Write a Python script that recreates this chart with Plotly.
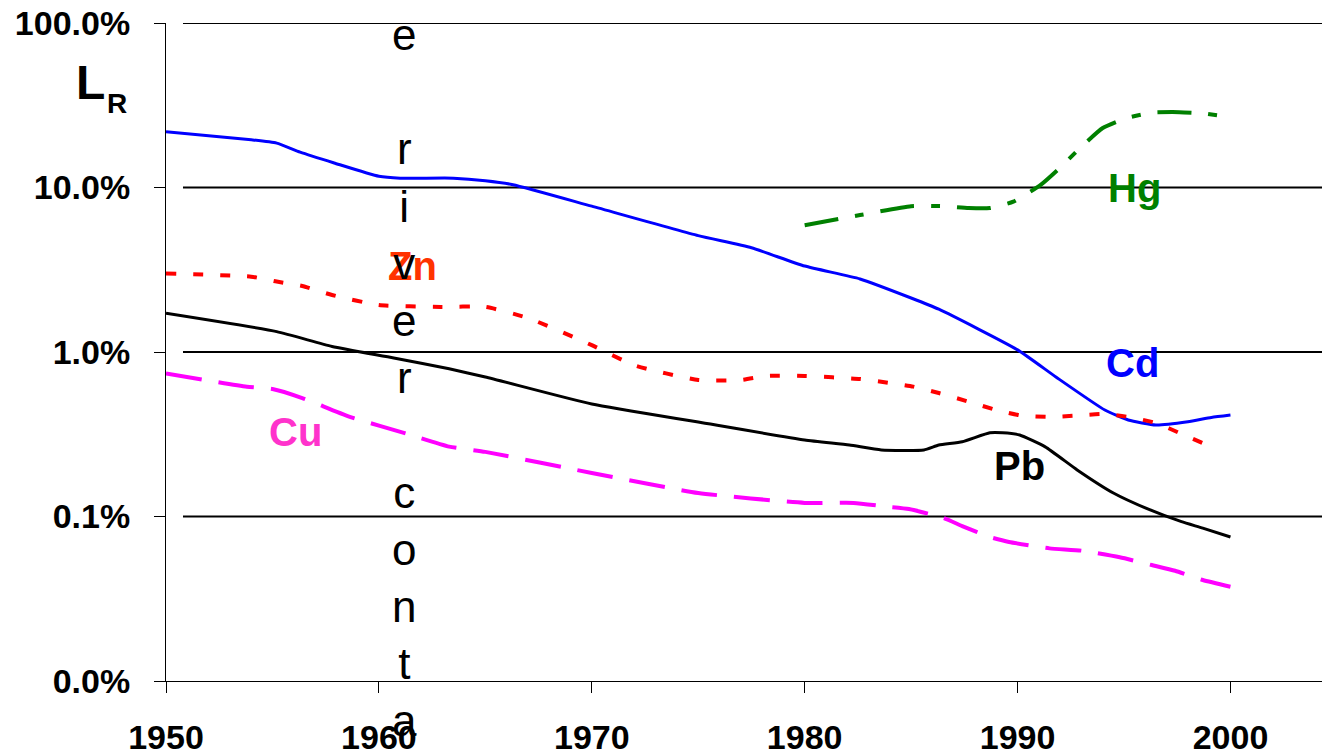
import plotly.graph_objects as go

# Relative load L_R (%) per metal, by year
cd_years = [1950, 1954, 1955.2, 1956.3, 1957.9, 1960, 1961, 1963.5, 1965, 1966.3, 1970, 1975,
            1977.5, 1980, 1982.6, 1985, 1986.3, 1990, 1991.8, 1994.1, 1995.2, 1996.5, 1998, 1999.1, 2000]
cd_values = [21.8, 19.5, 18.6, 16.4, 14.1, 11.7, 11.4, 11.4, 11.0, 10.4, 7.7, 5.1,
             4.3, 3.33, 2.78, 2.13, 1.82, 1.03, 0.705, 0.444, 0.386, 0.36, 0.377, 0.40, 0.414]

hg_years = [1980, 1982.6, 1985, 1986.5, 1987.7, 1988.7, 1989.8, 1991.1, 1992, 1993, 1994,
            1995.1, 1996.3, 1997.6, 1998.7, 2000]
hg_values = [5.9, 6.8, 7.7, 7.7, 7.5, 7.5, 8.2, 10.4, 13.2, 17.7, 23.0,
             26.4, 28.5, 28.7, 28.2, 26.7]

zn_years = [1950, 1954, 1955.2, 1956.4, 1957.8, 1960, 1962.9, 1965, 1967, 1970, 1972, 1975,
            1977, 1978.2, 1980, 1982.6, 1984, 1985.1, 1986.3, 1987.7, 1989, 1990.2, 1991.5,
            1992.7, 1994, 1995.2, 1996.5, 1997.7, 1998.9]
zn_values = [3.0, 2.87, 2.68, 2.52, 2.22, 1.93, 1.88, 1.88, 1.61, 1.10, 0.83, 0.676,
             0.676, 0.715, 0.715, 0.685, 0.648, 0.616, 0.563, 0.499, 0.444, 0.41, 0.403,
             0.41, 0.42, 0.403, 0.37, 0.318, 0.272]

pb_years = [1950, 1955.2, 1957.8, 1960.7, 1963.3, 1965, 1970, 1975, 1980, 1982.1, 1983.6,
            1985.6, 1986.3, 1987.4, 1988.7, 1989.3, 1990.1, 1991.3, 1992.8, 1994.5, 1996.2,
            1997.7, 1998.7, 2000]
pb_values = [1.72, 1.33, 1.08, 0.92, 0.79, 0.705, 0.483, 0.375, 0.292, 0.272, 0.254,
             0.254, 0.272, 0.285, 0.323, 0.323, 0.313, 0.265, 0.192, 0.139, 0.110,
             0.093, 0.085, 0.075]

cu_years = [1950, 1953.8, 1955, 1956.4, 1958.6, 1961.5, 1963.3, 1965, 1970, 1975, 1980,
            1982.3, 1983.8, 1984.9, 1986.5, 1987.4, 1988.7, 1989.6, 1991.5, 1993, 1994.8,
            1996.3, 1997.4, 1998.7, 2000]
cu_values = [0.741, 0.615, 0.596, 0.525, 0.405, 0.313, 0.266, 0.247, 0.184, 0.139, 0.121,
             0.121, 0.115, 0.111, 0.098, 0.0875, 0.075, 0.070, 0.064, 0.062, 0.0565,
             0.0507, 0.0468, 0.0411, 0.0374]

y_tick_values = [0.01, 0.1, 1, 10, 100]
y_tick_labels = ["0.0%", "0.1%", "1.0%", "10.0%", "100.0%"]
x_tick_values = [1950, 1960, 1970, 1980, 1990, 2000]

FONT = "Liberation Sans, Arial, sans-serif"

fig = go.Figure()

series = [
    (cd_years, cd_values, "#0000FF", "solid", 3),
    (hg_years, hg_values, "#008000", "34px,17px,9px,17px", 4),
    (zn_years, zn_values, "#FF0000", "10px,17px", 4),
    (pb_years, pb_values, "#000000", "solid", 3),
    (cu_years, cu_values, "#FF00FF", "36px,17px", 4),
]
for xs, ys, color, dash, width in series:
    fig.add_trace(go.Scatter(
        x=xs, y=ys, mode="lines",
        line=dict(color=color, dash=dash, width=width, shape="spline", smoothing=0.5),
        showlegend=False, hoverinfo="skip",
    ))

# Horizontal reference lines at each decade (start a little right of the axis)
for v in [0.1, 1, 10, 100]:
    fig.add_shape(type="line", xref="paper", x0=0.0147, x1=1,
                  yref="y", y0=v, y1=v,
                  line=dict(color="black", width=2), layer="below")

# Series labels (y given as log10 of the value)
labels = [
    ("Zn", 1961.6, 0.52, "#FF3300"),
    ("Hg", 1995.5, 1.0, "#008000"),
    ("Cd", 1995.4, -0.067, "#0000FF"),
    ("Pb", 1990.1, -0.693, "#000000"),
    ("Cu", 1956.1, -0.486, "#FF33CC"),
]
for text, x, y, color in labels:
    fig.add_annotation(text=f"<b>{text}</b>", x=x, y=y, xref="x", yref="y",
                       showarrow=False, xanchor="center", yanchor="middle",
                       font=dict(family=FONT, size=40, color=color))

# Stacked caption letters
caption = "e<br> <br>r<br>i<br>v<br>e<br>r<br> <br>c<br>o<br>n<br>t<br>a"
fig.add_annotation(text=caption, x=1961.2, y=0.462, xref="x", yref="paper",
                   showarrow=False, xanchor="center", yanchor="middle", align="center",
                   font=dict(family=FONT, size=44, color="black"))

# Axis title L_R
fig.add_annotation(text="<b>L</b>", xref="paper", yref="paper",
                   x=(90 - 166) / 1156, y=(681 - 83) / 658,
                   xanchor="center", yanchor="middle", showarrow=False,
                   font=dict(family=FONT, size=48, color="black"))
fig.add_annotation(text="<b>R</b>", xref="paper", yref="paper",
                   x=(117 - 166) / 1156, y=(681 - 103) / 658,
                   xanchor="center", yanchor="middle", showarrow=False,
                   font=dict(family=FONT, size=28, color="black"))

fig.update_layout(
    width=1322, height=755,
    margin=dict(l=166, r=0, t=23, b=74),
    paper_bgcolor="white", plot_bgcolor="white",
    font=dict(family=FONT, color="black"),
    xaxis=dict(
        range=[1950, 2004.3], tickvals=x_tick_values, ticktext=[str(v) for v in x_tick_values],
        showgrid=False, zeroline=False, showline=True, linecolor="black", linewidth=1,
        ticks="outside", ticklen=11, tickcolor="black", tickwidth=1,
        tickfont=dict(family=FONT, size=34, color="black", weight="bold"),
        ticklabelstandoff=15, automargin=False,
    ),
    yaxis=dict(
        type="log", range=[-2, 2], tickvals=y_tick_values, ticktext=y_tick_labels,
        showgrid=False, zeroline=False, showline=True, linecolor="black", linewidth=1,
        ticks="outside", ticklen=11, tickcolor="black", tickwidth=1,
        tickfont=dict(family=FONT, size=34, color="black", weight="bold"),
        ticklabelstandoff=17, automargin=False,
    ),
)

fig.write_html("out.html")
